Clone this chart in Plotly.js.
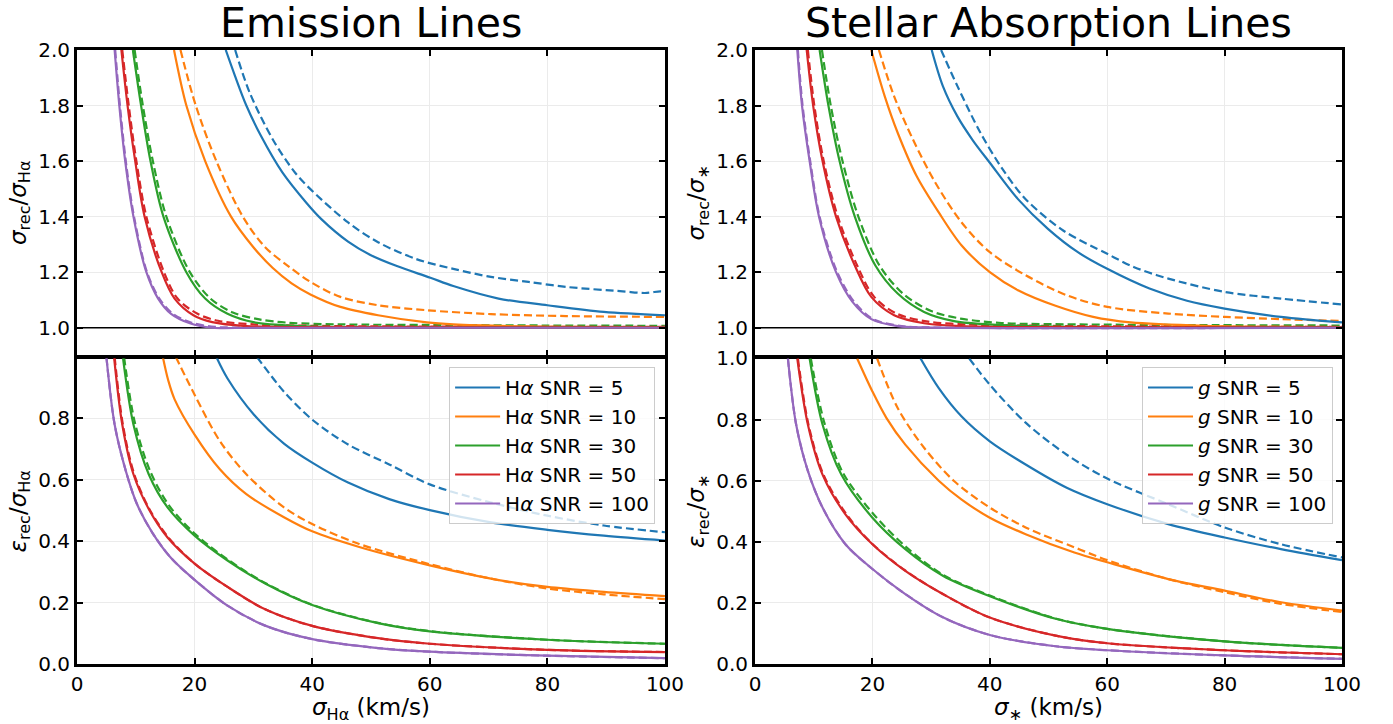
<!DOCTYPE html>
<html>
<head>
<meta charset="utf-8">
<script src="https://cdn.plot.ly/plotly-3.0.1.min.js"></script>
<style>html,body{margin:0;padding:0;background:#fff;}#chart{width:1393px;height:724px;}</style>
</head>
<body>
<div id="chart"></div>
<script>
// ---------- DATA ----------
const snrLabels = ['5', '10', '30', '50', '100'];
const colors = ['#1f77b4', '#ff7f0e', '#2ca02c', '#d62728', '#9467bd'];

// unity reference line in the ratio panels
const unityX = [0, 100];
const unityY = [1, 1];

// Emission lines: sigma_rec / sigma_Halpha (solid)
const emRatioSolidX = [
  [25.3, 26.9, 28.8, 31.3, 34.9, 39.0, 41.6, 46.1, 49.9, 54.4, 60.1, 64.0, 71.7, 80.0, 89.6, 100],
  [16.5, 18.6, 21.8, 26.2, 30.0, 33.3, 36.5, 39.7, 44.8, 51.2, 59.5, 64.0, 76.8, 100],
  [9.5, 10.9, 12.5, 14.7, 18.6, 21.8, 25.6, 30.0, 38.4, 50, 100],
  [7.55, 8.6, 9.9, 11.5, 14.4, 16.6, 19.8, 23.0, 28.8, 40, 100],
  [6.4, 7.2, 8.2, 9.6, 11.8, 13.8, 16.0, 19.2, 23.0, 30, 100]
];
const emRatioSolidY = [
  [2.0, 1.905, 1.80, 1.69, 1.56, 1.45, 1.39, 1.31, 1.262, 1.222, 1.18, 1.15, 1.105, 1.081, 1.057, 1.045],
  [2.0, 1.80, 1.60, 1.40, 1.29, 1.215, 1.16, 1.12, 1.075, 1.045, 1.019, 1.012, 1.005, 1.002],
  [2.0, 1.80, 1.60, 1.40, 1.20, 1.105, 1.05, 1.02, 1.006, 1.002, 1.001],
  [2.0, 1.80, 1.60, 1.40, 1.20, 1.105, 1.045, 1.02, 1.006, 1.002, 1.001],
  [2.0, 1.80, 1.60, 1.40, 1.20, 1.105, 1.05, 1.016, 1.0, 1.0, 1.0]
];
// Emission lines: sigma_rec / sigma_Halpha (dashed)
const emRatioDashX = [
  [26.9, 29.4, 33.3, 37.1, 39.7, 46.1, 51.2, 57.6, 64.0, 70.4, 76.8, 83.2, 92.8, 96.6, 99.2, 100],
  [17.6, 20.2, 23.7, 28.2, 32.0, 35.8, 39.7, 44.8, 51.2, 59.5, 70.4, 83.2, 100],
  [9.8, 11.2, 12.9, 15.2, 19.2, 22.7, 26.5, 31.0, 36.0, 45, 60, 80, 100],
  [7.7, 8.8, 10.1, 11.8, 14.8, 17.1, 20.5, 24.0, 30, 40, 60, 100],
  [6.5, 7.3, 8.3, 9.7, 11.9, 14.0, 16.3, 19.5, 23.5, 30, 100]
];
const emRatioDashY = [
  [2.0, 1.845, 1.678, 1.558, 1.499, 1.379, 1.308, 1.248, 1.212, 1.183, 1.165, 1.147, 1.131, 1.125, 1.131, 1.13],
  [2.0, 1.80, 1.60, 1.40, 1.29, 1.224, 1.165, 1.111, 1.081, 1.063, 1.049, 1.042, 1.039],
  [2.0, 1.80, 1.60, 1.40, 1.20, 1.105, 1.055, 1.03, 1.018, 1.012, 1.01, 1.008, 1.007],
  [2.0, 1.80, 1.60, 1.40, 1.20, 1.105, 1.05, 1.025, 1.012, 1.007, 1.004, 1.003],
  [2.0, 1.80, 1.60, 1.40, 1.20, 1.105, 1.05, 1.018, 1.003, 1.001, 1.0]
];

// Emission lines: eps_rec / sigma_Halpha (solid)
const emErrSolidX = [
  [23.7, 25.6, 30.1, 35.2, 40, 46.1, 53.1, 60, 70.4, 80, 89.6, 100],
  [14.6, 15.5, 16.6, 20, 24.3, 28.8, 35.2, 40, 48, 60, 70.4, 80, 89.6, 100],
  [7.8, 9.6, 12.2, 15.4, 20, 25.6, 32, 40, 51.2, 60, 80, 100],
  [6.3, 7.7, 9.6, 12.2, 15.4, 20, 25.6, 32, 40, 51.2, 60, 80, 100],
  [5.0, 6.4, 8.3, 10.2, 12.8, 16, 20, 25.6, 32, 40, 51.2, 60, 80, 100]
];
const emErrSolidY = [
  [1.0, 0.930, 0.812, 0.718, 0.656, 0.591, 0.537, 0.501, 0.461, 0.437, 0.418, 0.402],
  [1.0, 0.925, 0.862, 0.747, 0.634, 0.553, 0.478, 0.432, 0.381, 0.321, 0.278, 0.251, 0.235, 0.221],
  [1.0, 0.78, 0.618, 0.51, 0.418, 0.337, 0.262, 0.192, 0.133, 0.106, 0.079, 0.066],
  [1.0, 0.78, 0.618, 0.505, 0.412, 0.327, 0.251, 0.178, 0.124, 0.084, 0.066, 0.046, 0.039],
  [1.0, 0.78, 0.629, 0.521, 0.428, 0.345, 0.274, 0.19, 0.125, 0.081, 0.052, 0.040, 0.027, 0.019]
];
// Emission lines: eps_rec / sigma_Halpha (dashed)
const emErrDashX = [
  [30.6, 35.2, 40, 46.1, 53.1, 60, 70.4, 80, 89.6, 100],
  [16.8, 20, 24.3, 28.8, 35.2, 40, 48, 60, 70.4, 80, 89.6, 100],
  [8.0, 9.8, 12.4, 15.7, 20.3, 25.8, 32, 40, 51.2, 60, 80, 100],
  [6.4, 7.8, 9.7, 12.3, 15.5, 20, 25.6, 32, 40, 51.2, 60, 80, 100],
  [5.0, 6.4, 8.3, 10.2, 12.8, 16, 20, 25.6, 32, 40, 51.2, 60, 80, 100]
];
const emErrDashY = [
  [1.0, 0.887, 0.796, 0.715, 0.65, 0.585, 0.526, 0.483, 0.451, 0.429],
  [1.0, 0.877, 0.726, 0.618, 0.51, 0.456, 0.391, 0.325, 0.278, 0.246, 0.227, 0.211],
  [1.0, 0.79, 0.63, 0.515, 0.42, 0.338, 0.264, 0.193, 0.134, 0.107, 0.079, 0.066],
  [1.0, 0.78, 0.62, 0.505, 0.413, 0.327, 0.251, 0.178, 0.124, 0.084, 0.066, 0.046, 0.039],
  [1.0, 0.78, 0.629, 0.521, 0.428, 0.345, 0.274, 0.19, 0.125, 0.081, 0.052, 0.040, 0.027, 0.019]
];

// Stellar absorption lines: sigma_rec / sigma_* (solid)
const stRatioSolidX = [
  [30.1, 32, 34.5, 37.1, 40, 44.8, 49.9, 55, 60, 67.2, 73.6, 80, 89.6, 100],
  [19.8, 22.1, 24.3, 27.5, 31.3, 35.2, 40, 44.8, 51.2, 57.6, 64, 76.8, 100],
  [11.0, 12.5, 14.4, 17.0, 20.5, 24.3, 28.8, 33.9, 41.6, 51.2, 100],
  [8.8, 9.9, 11.5, 13.8, 17.0, 19.8, 23.7, 28.8, 35.2, 44.8, 100],
  [7.2, 8.0, 9.3, 10.9, 13.8, 16.6, 19.8, 24.3, 28.8, 100]
];
const stRatioSolidY = [
  [2.0, 1.87, 1.76, 1.675, 1.594, 1.463, 1.356, 1.272, 1.212, 1.141, 1.097, 1.069, 1.039, 1.019],
  [2.0, 1.833, 1.702, 1.547, 1.415, 1.296, 1.2, 1.135, 1.079, 1.039, 1.019, 1.007, 1.002],
  [2.0, 1.80, 1.60, 1.40, 1.224, 1.123, 1.057, 1.024, 1.01, 1.004, 1.001],
  [2.0, 1.80, 1.60, 1.40, 1.224, 1.111, 1.045, 1.016, 1.006, 1.002, 1.001],
  [2.0, 1.80, 1.60, 1.40, 1.20, 1.093, 1.031, 1.006, 1.001, 1.0]
];
// Stellar absorption lines: sigma_rec / sigma_* (dashed)
const stRatioDashX = [
  [31.7, 34.5, 38.4, 42.2, 46.1, 52.5, 60, 64.6, 70.4, 80, 89.6, 100],
  [21.1, 23.7, 26.9, 30.7, 35.2, 40, 46.1, 53.1, 60, 70.4, 80, 89.6, 100],
  [11.4, 12.9, 14.9, 17.6, 21.2, 25.2, 30, 35, 42, 50, 70, 100],
  [9.0, 10.1, 11.7, 14.1, 17.4, 20.3, 24.2, 29.5, 36, 45, 60, 100],
  [7.3, 8.1, 9.4, 11.0, 14.0, 16.9, 20.2, 25, 30, 100]
];
const stRatioDashY = [
  [2.0, 1.869, 1.702, 1.57, 1.463, 1.35, 1.266, 1.218, 1.177, 1.129, 1.105, 1.084],
  [2.0, 1.833, 1.678, 1.523, 1.379, 1.272, 1.189, 1.117, 1.075, 1.051, 1.039, 1.031, 1.024],
  [2.0, 1.80, 1.60, 1.40, 1.224, 1.123, 1.06, 1.033, 1.017, 1.013, 1.01, 1.008],
  [2.0, 1.80, 1.60, 1.40, 1.224, 1.111, 1.05, 1.022, 1.012, 1.008, 1.005, 1.003],
  [2.0, 1.80, 1.60, 1.40, 1.20, 1.093, 1.03, 1.006, 1.001, 1.0]
];

// Stellar absorption lines: eps_rec / sigma_* (solid)
const stErrSolidX = [
  [28.2, 31.3, 35.2, 40, 46.1, 53.1, 60, 70.4, 80, 89.6, 100],
  [17.4, 20, 22.4, 25.6, 31.3, 35.2, 40, 46.1, 54.4, 60, 70.4, 80, 89.6, 100],
  [9.3, 11.5, 14.7, 20, 25.6, 32, 40, 51.2, 60, 80, 100],
  [7.2, 9.0, 11.5, 15.4, 20, 25.6, 32, 40, 51.2, 60, 80, 100],
  [5.6, 7.0, 9.0, 11.5, 15.4, 20, 25.6, 32, 40, 51.2, 60, 80, 100]
];
const stErrSolidY = [
  [1.0, 0.903, 0.81, 0.729, 0.653, 0.577, 0.523, 0.458, 0.414, 0.376, 0.34],
  [1.0, 0.892, 0.805, 0.718, 0.60, 0.538, 0.479, 0.425, 0.365, 0.333, 0.278, 0.24, 0.202, 0.175],
  [1.0, 0.784, 0.62, 0.479, 0.376, 0.289, 0.222, 0.148, 0.115, 0.074, 0.053],
  [1.0, 0.784, 0.62, 0.49, 0.392, 0.305, 0.229, 0.152, 0.093, 0.068, 0.045, 0.032],
  [1.0, 0.784, 0.632, 0.512, 0.392, 0.311, 0.229, 0.153, 0.095, 0.058, 0.045, 0.028, 0.017]
];
// Stellar absorption lines: eps_rec / sigma_* (dashed)
const stErrDashX = [
  [36.5, 40, 46.1, 53.1, 60, 70.4, 80, 89.6, 100],
  [20.8, 24.3, 28.8, 33.9, 40, 46.1, 54.4, 60, 70.4, 80, 89.6, 100],
  [9.5, 11.8, 15.0, 20.3, 25.8, 32, 40, 51.2, 60, 80, 100],
  [7.3, 9.1, 11.6, 15.5, 20, 25.6, 32, 40, 51.2, 60, 80, 100],
  [5.6, 7.0, 9.0, 11.5, 15.4, 20, 25.6, 32, 40, 51.2, 60, 80, 100]
];
const stErrDashY = [
  [1.0, 0.914, 0.79, 0.685, 0.607, 0.523, 0.447, 0.392, 0.349],
  [1.0, 0.838, 0.708, 0.599, 0.512, 0.447, 0.382, 0.34, 0.278, 0.235, 0.197, 0.17],
  [1.0, 0.79, 0.625, 0.488, 0.382, 0.292, 0.224, 0.149, 0.115, 0.074, 0.053],
  [1.0, 0.784, 0.622, 0.492, 0.393, 0.306, 0.229, 0.152, 0.093, 0.068, 0.045, 0.032],
  [1.0, 0.784, 0.632, 0.512, 0.392, 0.311, 0.229, 0.153, 0.095, 0.058, 0.045, 0.028, 0.017]
];

const xTicks = [0, 20, 40, 60, 80, 100];
const ratioTicks = [1.0, 1.2, 1.4, 1.6, 1.8, 2.0];
const errTicksLeft = [0.0, 0.2, 0.4, 0.6, 0.8];
const errTicksRight = [0.0, 0.2, 0.4, 0.6, 0.8, 1.0];

// ---------- BUILD ----------
const FONT = 'DejaVu Sans, sans-serif';
const traces = [];
function addUnity(xa, ya) {
  traces.push({x: unityX, y: unityY, type: 'scatter', mode: 'lines', xaxis: xa, yaxis: ya,
    line: {color: '#000', width: 1.6}, showlegend: false, hoverinfo: 'skip'});
}
function addSet(xs, ys, dash, xa, ya, legendName, legendPrefix) {
  for (let i = 0; i < xs.length; i++) {
    const t = {
      x: xs[i], y: ys[i], type: 'scatter', mode: 'lines',
      xaxis: xa, yaxis: ya,
      line: {color: colors[i], width: 2.2, dash: dash ? '8px,4px' : 'solid', shape: 'spline', smoothing: 0.9},
      showlegend: false, hoverinfo: 'skip'
    };
    if (legendName) {
      t.showlegend = true;
      t.legend = legendName;
      t.name = legendPrefix + ' SNR = ' + snrLabels[i];
    }
    traces.push(t);
  }
}
addUnity('x', 'y');
addSet(emRatioDashX, emRatioDashY, true, 'x', 'y');
addSet(emRatioSolidX, emRatioSolidY, false, 'x', 'y');
addSet(emErrDashX, emErrDashY, true, 'x2', 'y2');
addSet(emErrSolidX, emErrSolidY, false, 'x2', 'y2', 'legend', 'H<i>α</i>');
addUnity('x3', 'y3');
addSet(stRatioDashX, stRatioDashY, true, 'x3', 'y3');
addSet(stRatioSolidX, stRatioSolidY, false, 'x3', 'y3');
addSet(stErrDashX, stErrDashY, true, 'x4', 'y4');
addSet(stErrSolidX, stErrSolidY, false, 'x4', 'y4', 'legend2', '<i>g</i>');

const L = [0, 0.4648], R = [0.536, 1], TOP = [0.50244, 1], BOT = [0, 0.49756];
function xa(domain, anchor, showLabels, title) {
  return {
    domain: domain, anchor: anchor, range: [0, 100], tickvals: xTicks,
    showticklabels: showLabels, ticks: 'inside', ticklen: 6, tickwidth: 2, tickcolor: '#000',
    showline: true, linewidth: 3, linecolor: '#000', mirror: 'ticks',
    showgrid: true, gridcolor: '#ebebeb', gridwidth: 1, zeroline: false,
    tickfont: {family: FONT, size: 20, color: '#000'},
    title: title ? {text: title, font: {family: FONT, size: 23, color: '#000'}, standoff: 4} : {text: ''}
  };
}
function ya(domain, anchor, range, ticks, title) {
  return {
    domain: domain, anchor: anchor, range: range, tickvals: ticks, tickformat: '.1f',
    ticks: 'inside', ticklen: 6, tickwidth: 2, tickcolor: '#000',
    showline: true, linewidth: 3, linecolor: '#000', mirror: 'ticks',
    showgrid: true, gridcolor: '#ebebeb', gridwidth: 1, zeroline: false,
    tickfont: {family: FONT, size: 20, color: '#000'},
    title: {text: title, font: {family: FONT, size: 23, color: '#000'}, standoff: 6}
  };
}

const layout = {
  width: 1393, height: 724,
  margin: {l: 77, r: 51, t: 50, b: 60},
  paper_bgcolor: '#fff', plot_bgcolor: '#fff',
  font: {family: FONT, color: '#000'},
  xaxis: xa(L, 'y', false),
  yaxis: ya(TOP, 'x', [0.9, 2.0], ratioTicks, '<i>σ</i><sub>rec</sub>/<i>σ</i><sub>Hα</sub>'),
  xaxis2: xa(L, 'y2', true, '<i>σ</i><sub>Hα</sub> (km/s)'),
  yaxis2: ya(BOT, 'x2', [0, 0.995], errTicksLeft, '<i>ε</i><sub>rec</sub>/<i>σ</i><sub>Hα</sub>'),
  xaxis3: xa(R, 'y3', false),
  yaxis3: ya(TOP, 'x3', [0.9, 2.0], ratioTicks, '<i>σ</i><sub>rec</sub>/<i>σ</i><sub>∗</sub>'),
  xaxis4: xa(R, 'y4', true, '<i>σ</i><sub>∗</sub> (km/s)'),
  yaxis4: ya(BOT, 'x4', [0, 1.0], errTicksRight, '<i>ε</i><sub>rec</sub>/<i>σ</i><sub>∗</sub>'),
  legend: {
    x: 0.457, y: 0.4837, xanchor: 'right', yanchor: 'top',
    bgcolor: 'rgba(255,255,255,0.8)', bordercolor: '#cccccc', borderwidth: 1,
    font: {family: FONT, size: 20, color: '#000'}, itemwidth: 45, tracegroupgap: 0
  },
  legend2: {
    x: 0.9929, y: 0.4837, xanchor: 'right', yanchor: 'top',
    bgcolor: 'rgba(255,255,255,0.8)', bordercolor: '#cccccc', borderwidth: 1,
    font: {family: FONT, size: 20, color: '#000'}, itemwidth: 45, tracegroupgap: 0
  },
  annotations: [
    {text: 'Emission Lines', xref: 'paper', yref: 'paper', x: 0.2324, y: 1, xanchor: 'center', yanchor: 'bottom', yshift: 1, showarrow: false, font: {family: FONT, size: 41, color: '#000'}},
    {text: 'Stellar Absorption Lines', xref: 'paper', yref: 'paper', x: 0.768, y: 1, xanchor: 'center', yanchor: 'bottom', yshift: 1, showarrow: false, font: {family: FONT, size: 41, color: '#000'}}
  ]
};

Plotly.newPlot('chart', traces, layout, {displayModeBar: false, staticPlot: true});
</script>
</body>
</html>
